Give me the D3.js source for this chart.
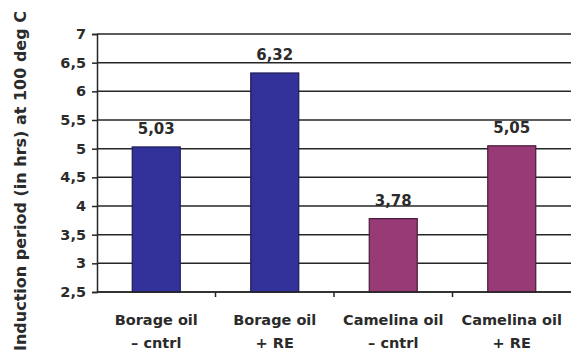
<!DOCTYPE html>
<html><head><meta charset="utf-8">
<script src="https://cdn.jsdelivr.net/npm/d3@7"></script>
<style>
html,body{margin:0;padding:0;background:#fff;}
svg{display:block;}
text{font-family:"DejaVu Sans",sans-serif;font-weight:bold;fill:#2b2b2b;}
</style></head>
<body>
<svg id="c" width="571" height="356"></svg>
<script>
const categories = ["Borage oil – cntrl", "Borage oil + RE", "Camelina oil – cntrl", "Camelina oil + RE"];
const labelLine1 = ["Borage oil", "Borage oil", "Camelina oil", "Camelina oil"];
const labelLine2 = ["– cntrl", "+ RE", "– cntrl", "+ RE"];
const values = [5.03, 6.32, 3.78, 5.05];
const valueLabels = ["5,03", "6,32", "3,78", "5,05"];
const yTicks = [2.5, 3, 3.5, 4, 4.5, 5, 5.5, 6, 6.5, 7];
const yTickLabels = ["2,5", "3", "3,5", "4", "4,5", "5", "5,5", "6", "6,5", "7"];
const barColors = ["#32329a", "#32329a", "#973a76", "#973a76"];
const barStroke = ["#1d1d55", "#1d1d55", "#4a1a3a", "#4a1a3a"];
const yTitle = "Induction period (in hrs) at 100 deg C";

(function () {
const svg = d3.select("#c");
const mLeft = 97, mRight = 571, mTop = 34, mBottom = 292;

const x = d3.scaleBand().domain(categories).range([mLeft, mRight]).paddingInner(0.595).paddingOuter(0.2975);
const y = d3.scaleLinear().domain([2.5, 7]).range([mBottom, mTop]);

// gridlines
svg.append("g").selectAll("line").data(yTicks).join("line")
  .attr("x1", mLeft).attr("x2", mRight)
  .attr("y1", d => y(d)).attr("y2", d => y(d))
  .attr("stroke", "#262626").attr("stroke-width", 1.5);

// y axis
const yAxis = d3.axisLeft(y).tickValues(yTicks).tickSize(5).tickPadding(6)
  .tickFormat((d, i) => yTickLabels[i]);
const gy = svg.append("g").attr("transform", `translate(${mLeft},0)`).call(yAxis);
gy.select(".domain").attr("stroke", "#262626").attr("stroke-width", 1.5);
gy.selectAll(".tick line").attr("stroke", "#262626").attr("stroke-width", 1.5);
gy.selectAll(".tick text").attr("font-size", 14.5).attr("font-family", "DejaVu Sans").attr("font-weight", "bold").attr("fill", "#2b2b2b");

// bars
svg.append("g").selectAll("rect").data(values).join("rect")
  .attr("x", (d, i) => x(categories[i]))
  .attr("width", x.bandwidth())
  .attr("y", d => y(d))
  .attr("height", d => y(2.5) - y(d))
  .attr("fill", (d, i) => barColors[i])
  .attr("stroke", (d, i) => barStroke[i]).attr("stroke-width", 1.2);

// x axis
const gx = svg.append("g").attr("transform", `translate(0,${mBottom})`);
gx.append("line").attr("x1", mLeft).attr("x2", mRight).attr("y1", 0).attr("y2", 0)
  .attr("stroke", "#262626").attr("stroke-width", 1.5);
gx.selectAll("line.tk").data(categories.slice(1)).join("line").attr("class", "tk")
  .attr("x1", c => x(c) - (x.step() - x.bandwidth()) / 2)
  .attr("x2", c => x(c) - (x.step() - x.bandwidth()) / 2)
  .attr("y1", 0).attr("y2", 5)
  .attr("stroke", "#262626").attr("stroke-width", 1.5);

// category labels
svg.append("g").selectAll("text").data(categories).join("text")
  .attr("x", c => x(c) + x.bandwidth() / 2)
  .attr("y", 325)
  .attr("text-anchor", "middle").attr("font-size", 14.5)
  .text((c, i) => labelLine1[i]);
svg.append("g").selectAll("text").data(categories).join("text")
  .attr("x", c => x(c) + x.bandwidth() / 2)
  .attr("y", 348)
  .attr("text-anchor", "middle").attr("font-size", 14.5)
  .text((c, i) => labelLine2[i]);

// value labels
svg.append("g").selectAll("text").data(values).join("text")
  .attr("x", (d, i) => x(categories[i]) + x.bandwidth() / 2)
  .attr("y", d => y(d) - 13)
  .attr("text-anchor", "middle").attr("font-size", 15)
  .text((d, i) => valueLabels[i]);

// y title
svg.append("text")
  .attr("transform", "translate(26,181) rotate(-90)")
  .attr("text-anchor", "middle").attr("font-size", 16)
  .text(yTitle);
})();
</script>
</body></html>
